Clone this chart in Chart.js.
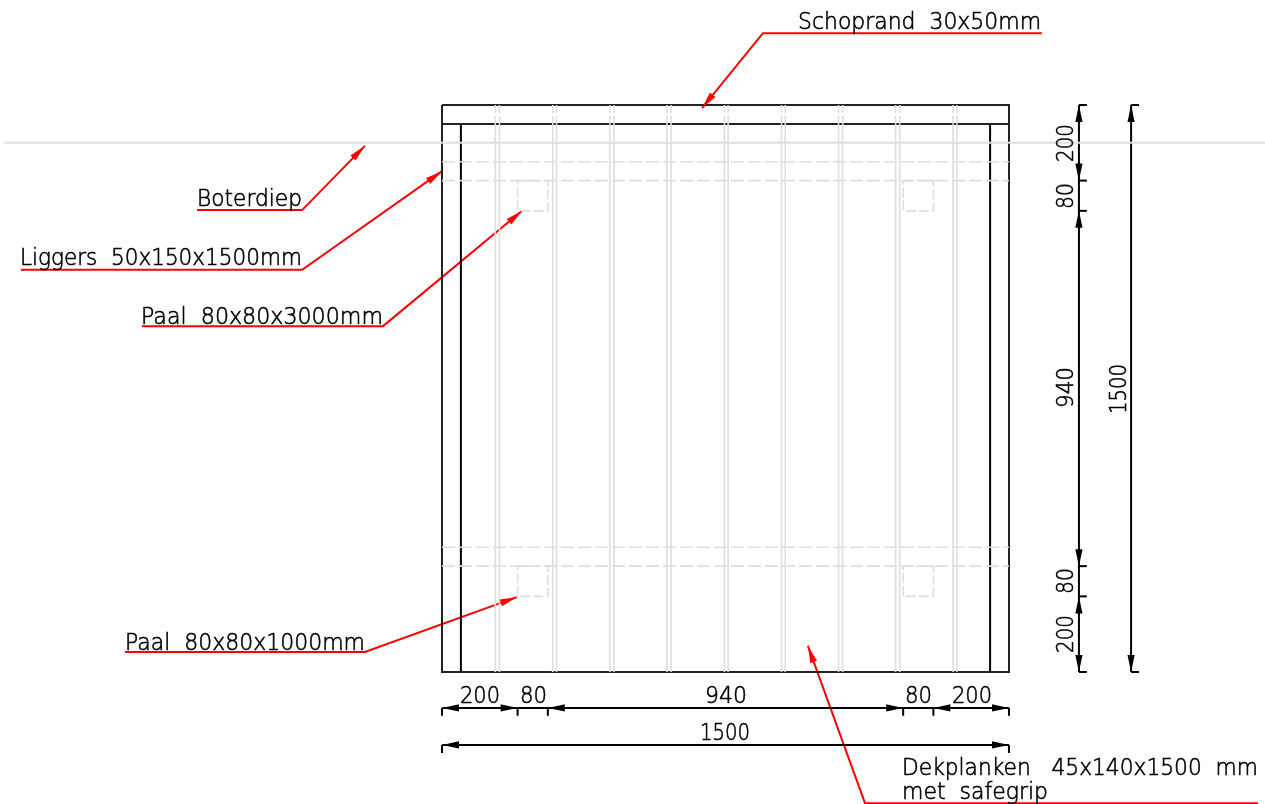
<!DOCTYPE html>
<html>
<head>
<meta charset="utf-8">
<title>Steiger Boterdiep</title>
<script src="https://cdn.jsdelivr.net/npm/chart.js@4"></script>
<style>
  html, body { margin: 0; padding: 0; background: #fff; overflow: hidden; }
  canvas { display: block; }
</style>
</head>
<body>
<canvas id="drawing" width="1265" height="804"></canvas>
<script>
// All drawing values are in mm, origin at the top left corner of the deck
const deckSize = 1500;
const edgeStrip = 50;
const dimParts = [200, 80, 940, 80, 200];
const waterLine = 100;
const beamEdges = [150, 200, 1170, 1220];
const plankGapLeft = [141, 293, 444, 595, 747, 898, 1049, 1200, 1352];
const plankGapRight = [152, 303, 455, 606, 757, 908, 1060, 1211, 1362];
const plankBreak = [21, 29];
const postX = [200, 1220];
const postY = [200, 1220];
const postSize = 80;

// Leader lines: label end, elbow, arrow tip
const leaderSchoprand = [[1587, -190], [849, -190], [688, 8]];
const leaderBoterdiep = [[-648, 278], [-370, 278], [-204, 108]];
const leaderLiggers = [[-1114, 436], [-370, 436], [0, 175]];
const leaderPaalHoog = [[-794, 585], [-156, 585], [212, 280]];
const leaderPaalLaag = [[-839, 1447], [-204, 1447], [198, 1302]];
const leaderDekplanken = [[2159, 1847], [1119, 1847], [968, 1431]];

const labels = ['Schoprand  30x50mm', 'Boterdiep', 'Liggers  50x150x1500mm', 'Paal  80x80x3000mm',
  'Paal  80x80x1000mm', 'Dekplanken   45x140x1500  mm', 'met  safegrip',
  '200', '80', '940', '80', '200', '1500', '200', '80', '940', '80', '200', '1500'];

// Text placement in page pixels: x, baseline y, fitted width, rotated
const labelLayout = [
  [798, 29, 243, 0], [197, 206, 105, 0], [20, 265, 282, 0], [141, 324, 242, 0],
  [125, 650, 240, 0], [902, 775, 356, 0], [902, 799, 146, 0],
  [460, 703, 40, 0], [520, 703, 27, 0], [705, 703, 42, 0], [905, 703, 27, 0], [952, 703, 40, 0], [700, 740, 50, 0],
  [1073, 162, 38, 1], [1073, 209, 26, 1], [1073, 408, 41, 1], [1073, 594, 26, 1], [1073, 653, 38, 1], [1126, 414, 50, 1]
];

const BLACK = '#000000', DARK = '#222222', GREY = '#dedede', RED = '#ff0000';
const mmPerPx = deckSize / 567;
const dimBottom = 1595, dimBottomAll = 1693, dimRight = 1685, dimRightAll = 1823, tickLen = 21;

const datasets = [];
const arrows = [];

function line(points, color, width, dash) {
  datasets.push({
    data: points.map(p => ({ x: p[0], y: p[1] })),
    borderColor: color,
    borderWidth: width,
    borderDash: dash || [],
    pointRadius: 0,
    fill: false,
    tension: 0,
    showLine: true
  });
}

// site water line goes under everything
line([[-1158, waterLine], [2177, waterLine]], GREY, 2);

// plank gaps, broken once just under the top edge
plankGapLeft.concat(plankGapRight).forEach(x => {
  line([[x, 0], [x, plankBreak[0]]], GREY, 1.6);
  line([[x, plankBreak[1]], [x, deckSize]], GREY, 1.6);
});

// hidden beams and posts
beamEdges.forEach(y => line([[0, y], [deckSize, y]], GREY, 1.6, [13, 4]));
postX.forEach(x => postY.forEach(y => {
  line([[x, y], [x + postSize, y], [x + postSize, y + postSize], [x, y + postSize], [x, y]], GREY, 1.6, [10, 3]);
}));

// deck outline
line([[0, 0], [deckSize, 0], [deckSize, deckSize], [0, deckSize], [0, 0]], DARK, 2);
line([[0, edgeStrip], [deckSize, edgeStrip]], DARK, 2);
line([[edgeStrip, edgeStrip], [edgeStrip, deckSize]], BLACK, 2);
line([[deckSize - edgeStrip, edgeStrip], [deckSize - edgeStrip, deckSize]], BLACK, 2);

// dimension lines, built from the parts
let run = 0;
const stops = [0];
dimParts.forEach(d => { run += d; stops.push(run); });
line([[0, dimBottom], [deckSize, dimBottom]], BLACK, 2);
line([[dimRight, 0], [dimRight, deckSize]], BLACK, 2);
stops.forEach(s => {
  line([[s, dimBottom], [s, dimBottom + tickLen]], BLACK, 2);
  line([[dimRight, s], [dimRight + tickLen, s]], BLACK, 2);
});
line([[0, dimBottomAll], [deckSize, dimBottomAll]], BLACK, 2);
line([[dimRightAll, 0], [dimRightAll, deckSize]], BLACK, 2);
[0, deckSize].forEach(s => {
  line([[s, dimBottomAll], [s, dimBottomAll + tickLen]], BLACK, 2);
  line([[dimRightAll, s], [dimRightAll + tickLen, s]], BLACK, 2);
});

// arrows on the outer side of each span, the 80 spans have none
[[0, 1], [2, 3], [4, 5]].forEach(([a, b]) => {
  arrows.push([stops[a] + 40, dimBottom, stops[a], dimBottom, BLACK]);
  arrows.push([stops[b] - 40, dimBottom, stops[b], dimBottom, BLACK]);
  arrows.push([dimRight, stops[a] + 40, dimRight, stops[a], BLACK]);
  arrows.push([dimRight, stops[b] - 40, dimRight, stops[b], BLACK]);
});
arrows.push([40, dimBottomAll, 0, dimBottomAll, BLACK]);
arrows.push([deckSize - 40, dimBottomAll, deckSize, dimBottomAll, BLACK]);
arrows.push([dimRightAll, 40, dimRightAll, 0, BLACK]);
arrows.push([dimRightAll, deckSize - 40, dimRightAll, deckSize, BLACK]);

// red leaders
[leaderSchoprand, leaderBoterdiep, leaderLiggers, leaderPaalHoog, leaderPaalLaag, leaderDekplanken].forEach(l => {
  line(l, RED, 2);
  arrows.push([l[1][0], l[1][1], l[2][0], l[2][1], RED]);
});

const arrowPlugin = {
  id: 'arrowHeads',
  afterDatasetsDraw(chart) {
    const { ctx, scales } = chart;
    arrows.forEach(([fx, fy, tx, ty, color]) => {
      const x1 = scales.x.getPixelForValue(fx), y1 = scales.y.getPixelForValue(fy);
      const x2 = scales.x.getPixelForValue(tx), y2 = scales.y.getPixelForValue(ty);
      const a = Math.atan2(y2 - y1, x2 - x1);
      const len = 17, half = 3.6;
      ctx.save();
      ctx.translate(x2, y2);
      ctx.rotate(a);
      ctx.fillStyle = color;
      ctx.beginPath();
      ctx.moveTo(0, 0);
      ctx.lineTo(-len, -half);
      ctx.lineTo(-len, half);
      ctx.closePath();
      ctx.fill();
      ctx.restore();
    });
  }
};

const textPlugin = {
  id: 'cadText',
  afterDraw(chart) {
    const ctx = chart.ctx;
    labels.forEach((text, i) => {
      const [x, y, w, rotated] = labelLayout[i];
      ctx.save();
      ctx.font = '200 23px "DejaVu Sans"';
      ctx.fillStyle = BLACK;
      ctx.strokeStyle = BLACK;
      ctx.lineWidth = 0.6;
      ctx.textBaseline = 'alphabetic';
      ctx.translate(x, y);
      if (rotated) ctx.rotate(-Math.PI / 2);
      ctx.scale(w / ctx.measureText(text).width, 1);
      ctx.fillText(text, 0, 0);
      ctx.strokeText(text, 0, 0);
      ctx.restore();
    });
  }
};

new Chart(document.getElementById('drawing').getContext('2d'), {
  type: 'scatter',
  data: { datasets: datasets },
  options: {
    responsive: false,
    animation: false,
    events: [],
    layout: { padding: 0 },
    plugins: { legend: { display: false }, tooltip: { enabled: false } },
    scales: {
      x: { type: 'linear', display: false, min: -442 * mmPerPx, max: (1265 - 442) * mmPerPx },
      y: { type: 'linear', display: false, reverse: true, min: -105 * mmPerPx, max: (804 - 105) * mmPerPx }
    }
  },
  plugins: [arrowPlugin, textPlugin]
});
</script>
</body>
</html>
